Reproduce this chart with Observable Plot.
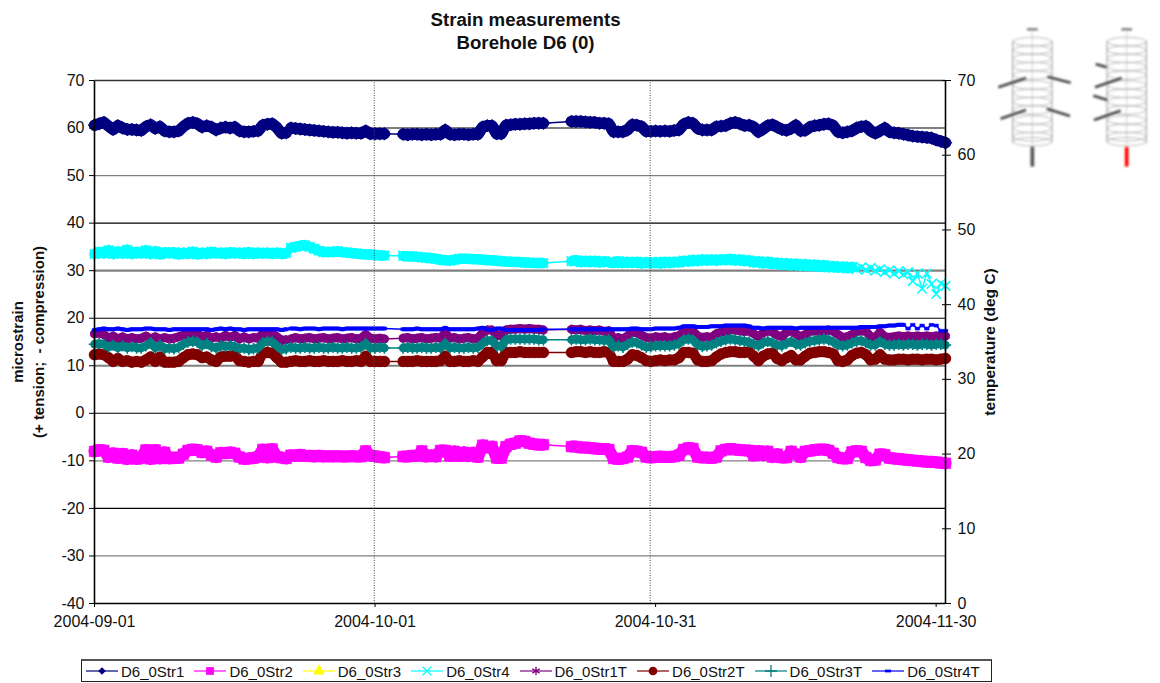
<!DOCTYPE html>
<html>
<head>
<meta charset="utf-8">
<script src="https://cdn.jsdelivr.net/npm/d3@7"></script>
<script src="https://cdn.jsdelivr.net/npm/@observablehq/plot@0.6"></script>
<style>
html,body{margin:0;padding:0;background:#fff;font-family:"Liberation Sans",Arial,sans-serif}
#wrap{position:relative;width:1160px;height:683px;overflow:hidden}
#legend{position:absolute;left:81px;top:659px;width:911px;height:23px;box-sizing:border-box;border:1px solid #222;border-top:2px solid #555;display:flex;align-items:center;font-size:15px;color:#111;padding-left:4px;gap:10px;white-space:nowrap}
#legend .it{display:flex;align-items:center;gap:3px}
#schem{position:absolute;left:990px;top:10px}
</style>
</head>
<body>
<div id="wrap"><div id="chart"></div><div id="legend"></div><div id="schem"></div></div>
<script>
// Reading days since 2004-09-01 (logger gaps around day 21, 31-33 and 48-51)
const days = [...d3.range(0, 21, 0.5), ...d3.range(21, 31.5, 0.5), ...d3.range(33, 48.5, 0.5), ...d3.range(51, 91.5, 0.5)];
const segmentStarts = [0, 21, 33, 51];

// Strain (microstrain, left axis)
const str1 = [
 60.6,60.9,61.2,60.4,59.7,60.5,60.0,59.7,59.7,59.6,59.5,60.3,60.7,59.9,60.3,59.4,59.2,59.2,59.4,60.3,
 61.0,61.2,60.9,60.2,60.5,60.2,59.6,60.0,60.2,60.0,60.2,59.4,59.2,59.2,59.3,59.4,60.6,60.8,60.9,60.1,58.9,59.0,
 60,59.9,59.8,59.7,59.6,59.5,59.4,59.3,59.2,59.1,59.1,59,58.9,59,58.9,58.9,59.4,58.8,58.8,58.8,58.8,
 58.7,58.6,58.7,58.7,58.6,58.7,58.6,58.7,58.7,59.6,58.7,58.6,58.7,58.7,58.6,58.7,58.7,60.2,60.5,60.5,58.8,58.8,60.6,60.7,60.8,60.8,60.9,60.9,61,61,61,
 61.4,61.4,61.4,61.3,61.2,61.2,61.0,61.0,60.9,
 59.2,59.2,59.2,59.6,60.7,60.6,60.3,59.3,59.3,59.4,
 59.3,59.4,59.3,59.5,59.6,60.8,61.2,61.0,59.9,59.6,
 59.6,59.6,60.3,60.4,60.5,61.0,61.2,60.9,60.5,60.6,
 60.2,59.2,59.8,60.5,60.7,60.2,59.7,59.5,59.9,60.6,
 59.4,59.5,60.2,60.5,60.6,60.8,60.9,60.5,59.2,59,
 59.2,59.4,60,60.3,60.4,59.4,58.9,59.4,60,59.2,
 59,58.9,58.7,58.5,58.3,58.2,58.1,58,57.9,57.5,57.2,56.9];
const str2 = [
 -8,-7.7,-7.8,-9.2,-8.4,-9.4,-8.5,-9.6,-8.8,-9.6,-9.4,-7.7,-9.6,-7.7,-9.5,-8.2,-9.5,-9.3,-9.4,-8.6,
 -7.8,-7.6,-7.7,-8.2,-8.0,-8.8,-9.2,-8.3,-8.4,-8.2,-8.4,-9.2,-9.6,-9.5,-9.4,-9.2,-7.6,-9.3,-7.5,-9.2,-9.3,-9.5,
 -8.8,-9,-8.7,-9,-8.9,-9.1,-8.9,-9.1,-9,-9.1,-9,-9.1,-9.1,-9,-9.1,-9.1,-7.9,-8.9,-9,-9.2,-9.3,
 -9.1,-9.1,-8.9,-9,-7.9,-9.1,-8.8,-9.1,-7.8,-7.8,-9,-8,-9,-8.2,-9,-8.3,-9.2,-6.7,-7.2,-7,-9.4,-9.4,-7,-6.5,-6.3,-5.8,-5.9,-6.3,-6.5,-6.6,-6.6,
 -7,-7,-7.2,-7.2,-7.3,-7.4,-7.5,-7.5,-7.6,
 -9.5,-9.6,-9.5,-9.2,-7.9,-8,-8.2,-9.2,-9.3,-9.2,
 -9.1,-9.2,-9.2,-9.1,-8.8,-7.6,-7.3,-7.4,-9.2,-9.3,
 -9.3,-9.4,-9.2,-7.9,-7.6,-7.5,-7.6,-7.7,-7.8,-7.8,
 -8.9,-7.9,-8.8,-8,-9.2,-8.6,-9.3,-9.3,-8,-8.6,
 -9.2,-8,-7.9,-7.7,-7.6,-7.6,-7.8,-8.4,-9.3,-9.5,
 -9.5,-8.1,-7.9,-8,-9.3,-9.9,-9.8,-8.6,-8.7,-9.4,
 -9.5,-9.6,-9.7,-9.8,-9.9,-10,-10.1,-10.2,-10.2,-10.3,-10.4,-10.5];
const str3 = []; // in the legend, no readable points on the chart
const str4 = [
 33.5,34.0,33.6,34.3,33.5,34.1,33.6,34.4,33.5,34,33.6,34.3,33.5,34.1,33.4,33.9,33.6,33.9,33.4,33.8,
 33.5,34,33.4,33.8,33.5,34,33.6,33.8,33.5,33.9,33.6,33.8,33.5,33.9,33.5,33.8,33.6,33.8,33.5,33.8,33.5,33.7,
 34.8,35,35.2,35.4,35.0,34.6,34.2,33.9,34.0,33.9,34.1,33.9,33.8,33.7,33.6,33.5,33.4,33.4,33.3,33.2,33.2,
 33.1,33,33,32.9,32.8,32.7,32.6,32.5,32.3,32.2,32.1,32.3,32.5,32.5,32.5,32.4,32.4,32.3,32.2,32.2,32.1,32,31.9,31.9,31.8,31.8,31.7,31.7,31.6,31.6,31.6,
 32,32.2,31.8,32.1,31.8,32.1,31.7,32,31.8,
 31.6,32,31.6,31.9,31.6,31.9,31.5,31.8,31.5,31.8,
 31.5,31.9,31.6,31.9,31.7,32.1,31.9,32.3,32,32.4,
 32.1,32.4,32.1,32.4,32.2,32.5,32.1,32.4,32,32.2,
 31.7,32,31.5,31.9,31.4,31.7,31.2,31.6,31.1,31.5,
 31,31.4,30.9,31.3,30.8,31.2,30.7,31,30.6,30.9,
 30.5,30.8,30.3,30.7,30.2,30.6,30,30.3,29.7,30.1,
 29.4,29.9,29.2,29.7,27.8,29.4,26.2,29.4,27.2,25.1,27.3,26.8];

// Temperature (deg C, right axis)
const str1T = [
 36.1,36.2,36,35.5,35.8,35.4,35.7,35.4,35.6,35.4,35.5,35.8,35.4,35.7,35.4,35.6,35.4,35.5,35.7,35.9,
 36.1,36,36.1,35.6,35.9,35.5,35.7,35.5,35.9,35.6,35.9,35.4,35.7,35.4,35.6,35.5,36.1,36,36.1,35.7,35.2,35.3,
 35.4,35.6,35.4,35.5,35.6,35.4,35.5,35.6,35.4,35.5,35.6,35.4,35.5,35.6,35.4,35.5,36.0,35.5,35.4,35.5,35.4,
 35.5,35.6,35.4,35.5,35.6,35.4,35.5,35.6,35.5,36.2,35.5,35.6,35.4,35.5,35.6,35.4,35.5,36.2,36.6,36.6,35.9,35.8,36.6,36.7,36.7,36.8,36.7,36.8,36.7,36.7,36.6,
 36.7,36.6,36.7,36.5,36.6,36.5,36.6,36.4,36.5,
 35.4,35.6,35.4,35.8,36.3,36.2,35.9,35.6,35.5,35.7,
 35.6,35.7,35.5,35.7,35.8,36.4,36.5,36.4,35.8,35.6,
 35.7,35.6,36.1,36.3,36.4,36.6,36.6,36.5,36.4,36.5,
 36.1,35.7,36.2,36.5,36.3,35.9,35.7,36.3,36.5,36.1,
 35.7,36,36.4,36.5,36.4,36.5,36.6,36.4,36,35.6,
 35.7,36,36.4,36.5,36.4,35.7,35.6,36.3,35.7,35.6,
 35.7,35.8,35.7,35.8,35.7,35.8,35.7,35.8,35.7,35.8,35.7,35.8];
const str2T = [
 33.3,33.4,33.3,32.9,32.4,32.8,32.4,32.5,32.3,32.4,32.3,32.6,33,32.4,33,32.3,32.3,32.3,32.4,32.9,
 33.3,33.4,33.3,32.9,33,32.6,32.4,33,33.1,33.1,33.2,32.5,32.4,32.3,32.4,32.4,33.5,33.6,33.5,32.9,32.3,32.3,
 32.4,32.5,32.4,32.4,32.5,32.4,32.4,32.5,32.4,32.4,32.4,32.5,32.4,32.4,32.5,32.4,33.1,32.4,32.4,32.4,32.4,
 32.4,32.4,32.4,32.5,32.4,32.4,32.4,32.4,32.5,33.1,32.4,32.4,32.5,32.4,32.4,32.5,32.4,33,33.6,33.6,32.5,32.5,33.6,33.6,33.6,33.7,33.6,33.6,33.6,33.6,33.6,
 33.6,33.7,33.7,33.6,33.7,33.6,33.6,33.7,33.6,
 32.4,32.4,32.4,32.7,33.3,33.2,32.9,32.5,32.4,32.5,
 32.6,32.5,32.6,32.6,32.9,33.6,33.6,33.5,32.6,32.4,
 32.4,32.5,33,33.4,33.6,33.7,33.7,33.6,33.6,33.7,
 33.1,32.5,33.1,33.4,33.5,32.8,32.5,32.9,33.2,32.6,
 32.6,33.1,33.5,33.6,33.7,33.7,33.6,33.4,32.5,32.4,
 32.6,33.2,33.5,33.6,33.3,32.6,32.7,33.3,32.7,32.6,
 32.6,32.7,32.7,32.6,32.7,32.7,32.6,32.7,32.7,32.6,32.7,32.8];
const str3T = [
 34.7,34.8,34.7,34.3,34.6,34.2,34.5,34.2,34.4,34.2,34.2,34.5,34.9,34.2,34.6,34.1,34.2,34.1,34.3,34.7,
 35,35.1,35,34.5,34.8,34.4,34.2,34.5,34.4,34.5,34.4,34.1,34.2,34,34.1,34.2,34.9,35.1,35,34.5,34,34.1,
 34.3,34.2,34.2,34.3,34.2,34.2,34.3,34.2,34.2,34.3,34.2,34.2,34.3,34.2,34.2,34.3,34.8,34.2,34.2,34.3,34.2,
 34.2,34.3,34.2,34.2,34.3,34.2,34.2,34.3,34.2,34.8,34.2,34.3,34.2,34.2,34.3,34.2,34.3,34.8,35.2,35.2,34.5,34.4,35.3,35.4,35.4,35.4,35.4,35.4,35.4,35.3,35.3,
 35.3,35.4,35.3,35.3,35.4,35.3,35.3,35.2,35.3,
 34.3,34.5,34.3,34.7,35,34.9,34.6,34.3,34.4,34.5,
 34.5,34.5,34.5,34.6,34.8,35.3,35.4,35.3,34.6,34.4,
 34.5,34.6,34.9,35.1,35.3,35.4,35.3,35.2,35.1,35,
 34.7,34.5,34.9,35.1,34.9,34.6,34.5,34.8,35.1,34.7,
 34.6,34.9,35.1,35.2,35.3,35.4,35.3,35,34.6,34.5,
 34.6,34.9,35.1,35.2,34.9,34.6,34.6,35.1,34.7,34.6,
 34.6,34.7,34.6,34.7,34.7,34.6,34.7,34.7,34.6,34.7,34.7,34.6];
const str4T = [
 36.6,36.7,36.8,36.7,36.7,36.8,36.7,36.6,36.7,36.7,36.7,36.8,36.8,36.7,36.7,36.7,36.6,36.7,36.7,36.7,
 36.7,36.7,36.7,36.7,36.7,36.6,36.7,36.8,36.7,36.8,36.7,36.7,36.6,36.7,36.7,36.7,36.7,36.7,36.7,36.7,36.6,36.7,
 36.8,36.8,36.7,36.8,36.8,36.8,36.7,36.8,36.8,36.8,36.8,36.7,36.8,36.8,36.8,36.8,36.8,36.8,36.8,36.8,36.8,
 36.7,36.7,36.7,36.8,36.7,36.7,36.7,36.7,36.7,36.9,36.7,36.7,36.7,36.7,36.7,36.7,36.8,36.9,36.7,36.6,36.8,36.8,36.6,36.6,36.6,36.6,36.6,36.6,36.6,36.6,36.7,
 36.7,36.7,36.7,36.7,36.7,36.7,36.7,36.7,36.7,
 36.7,36.7,36.7,36.7,36.8,36.8,36.7,36.7,36.7,36.8,
 36.8,36.8,36.8,36.8,36.9,37.1,37.1,37.1,37.0,37.0,
 37.0,37.1,37.1,37.1,37.2,37.2,37.2,37.2,37.2,37.1,
 36.9,36.9,36.8,36.9,36.9,36.9,36.9,36.9,36.9,36.8,
 36.9,36.9,36.9,36.9,36.9,36.9,36.9,36.9,36.9,36.9,
 36.9,36.9,36.9,37.0,37.0,37.0,37.0,37.1,37.1,37.2,
 37.2,37.3,37.3,36.8,37.3,36.8,37.2,36.8,37.3,37.2,36.5,36.5];

const xTicks = ["2004-09-01", "2004-10-01", "2004-10-31", "2004-11-30"];
const leftTicks = [70,60,50,40,30,20,10,0,-10,-20,-30,-40];
const rightTicks = [0,10,20,30,40,50,60,70];
const darkGrid = [70,60,40,20,0,-20];
const greyGrid = [50,-10,-30];
const thickGreyGrid = [30,10];
const markerLines = ["2004-09-30T22:00Z", "2004-10-30T10:00Z"];

const utc = s => new Date(s.length === 10 ? s + "T00:00Z" : s);
const tempToLeft = t => t * 110 / 70 - 40;   // right axis 0..70 spans left axis -40..70
const leftToTemp = v => (v + 40) * 70 / 110;
const dash = {draw(c, s) { const w = Math.sqrt(s) / 2; c.rect(-w, -1.5, 2 * w, 3); }};

const series = [
 {name:"D6_0Str1",  values:str1,  color:"#000080", symbol:"diamond2", r:5.8, filled:true,  temp:false, band:11.5, bandEnd:92},
 {name:"D6_0Str2",  values:str2,  color:"#FF00FF", symbol:"square",   r:6,   filled:true,  temp:false, band:12,   bandEnd:92},
 {name:"D6_0Str3",  values:str3,  color:"#FFFF00", symbol:"triangle", r:4.5, filled:true,  temp:false, band:0,    bandEnd:92},
 {name:"D6_0Str4",  values:str4,  color:"#00FFFF", symbol:"times",    r:4.4, filled:false, temp:false, band:10.5, bandEnd:81},
 {name:"D6_0Str1T", values:str1T, color:"#800080", symbol:"asterisk", r:4.2, filled:false, temp:true,  band:9,    bandEnd:92},
 {name:"D6_0Str2T", values:str2T, color:"#800000", symbol:"circle",   r:5.4, filled:true,  temp:true,  band:10.5, bandEnd:92},
 {name:"D6_0Str3T", values:str3T, color:"#008080", symbol:"plus",     r:3.8, filled:false, temp:true,  band:8.5,  bandEnd:92},
 {name:"D6_0Str4T", values:str4T, color:"#0000FF", symbol:dash,       r:2.6, filled:true,  temp:true,  band:4,    bandEnd:86.5}
];

const rowsOf = s => s.values.map((v, i) => ({
  day: days[i],
  segment: d3.bisectRight(segmentStarts, days[i]),
  date: new Date(Date.UTC(2004, 8, 1) + days[i] * 864e5),
  y: s.temp ? tempToLeft(v) : v
}));

const marks = [
 Plot.ruleY(greyGrid, {stroke:"#808080", strokeWidth:1.3}),
 Plot.ruleY(thickGreyGrid, {stroke:"#808080", strokeWidth:2.2}),
 Plot.ruleY(darkGrid, {stroke:"#000", strokeWidth:1.1})
];
for (const s of series) {
  const rows = rowsOf(s);
  marks.push(Plot.line(rows, {x:"date", y:"y", stroke:s.color, strokeWidth:1.5}));
  if (s.band) marks.push(Plot.line(rows.filter(r => r.day <= s.bandEnd), {x:"date", y:"y", z:"segment", stroke:s.color, strokeWidth:s.band, strokeLinejoin:"round"}));
  marks.push(Plot.dot(rows, {x:"date", y:"y", symbol:()=>s.symbol, r:s.r,
    fill:s.filled ? s.color : "none", stroke:s.color, strokeWidth:s.filled ? 0.5 : 1.6}));
}
marks.push(
 Plot.ruleX(markerLines.map(utc), {stroke:"#444", strokeWidth:1, strokeDasharray:"1,1.5"}),
 Plot.ruleX([utc("2004-09-01")], {stroke:"#000", strokeWidth:1.6}),
 Plot.ruleX([utc("2004-12-01")], {stroke:"#000", strokeWidth:1.6}),
 Plot.ruleY([-40], {stroke:"#000", strokeWidth:1.6}),
 Plot.ruleY([70], {stroke:"#333", strokeWidth:1.6}),
 Plot.axisX(xTicks.map(utc), {anchor:"bottom", tickSize:4, tickPadding:8, tickFormat:d3.utcFormat("%Y-%m-%d"), stroke:"#000", label:null}),
 Plot.axisY(leftTicks, {anchor:"left", tickSize:5, tickPadding:5, label:null, stroke:"#000", tickFormat:d => String(d)}),
 Plot.axisY(rightTicks.map(tempToLeft), {anchor:"right", tickSize:9, dx:-4, tickPadding:7, label:null, stroke:"#000", tickFormat:d => String(Math.round(leftToTemp(d)))}),
 Plot.text(["Strain measurements\nBorehole D6 (0)"], {frameAnchor:"top", dx:5.5, dy:-50.5, lineAnchor:"middle", textAnchor:"middle", fontWeight:"bold", fontSize:18.7, lineHeight:1.23}),
 Plot.text(["microstrain\n(+ tension;  - compression)"], {frameAnchor:"left", dx:-68, rotate:-90, textAnchor:"middle", lineAnchor:"middle", fontWeight:"bold", fontSize:15, lineHeight:1.4}),
 Plot.text(["temperature (deg C)"], {frameAnchor:"right", dx:45, rotate:-90, textAnchor:"middle", lineAnchor:"middle", fontWeight:"bold", fontSize:15.5})
);

const chart = Plot.plot({
  width:1160, height:650,
  marginTop:80, marginBottom:47, marginLeft:94, marginRight:215,
  x:{type:"utc", domain:[utc("2004-09-01"), utc("2004-12-01")]},
  y:{domain:[-40,70]},
  style:{fontFamily:'"Liberation Sans",Arial,sans-serif', fontSize:"16px", background:"#fff", color:"#111", overflow:"visible"},
  marks
});
document.getElementById("chart").appendChild(chart);

// Legend
const legend = d3.select("#legend");
const symTypes = {diamond2:d3.symbolSquare, square:d3.symbolSquare, triangle:d3.symbolTriangle, times:d3.symbolTimes, asterisk:d3.symbolAsterisk, circle:d3.symbolCircle, plus:d3.symbolPlus};
for (const s of series) {
  const it = legend.append("div").attr("class","it");
  const svg = it.append("svg").attr("width",32).attr("height",16);
  svg.append("line").attr("x1",0).attr("x2",32).attr("y1",8).attr("y2",8).attr("stroke",s.color).attr("stroke-width",1.2);
  if (s.symbol === dash) {
    svg.append("rect").attr("x",13).attr("y",6.6).attr("width",6).attr("height",2.8).attr("fill",s.color);
  } else {
    const size = s.symbol === "diamond2" ? 28 : s.filled ? 60 : 50;
    svg.append("path").attr("d", d3.symbol(symTypes[s.symbol], size)())
      .attr("transform", "translate(16,8)" + (s.symbol === "diamond2" ? " rotate(45)" : ""))
      .attr("fill", s.filled ? s.color : "none").attr("stroke", s.color).attr("stroke-width", s.filled ? 0 : 1.3);
  }
  it.append("span").text(s.name);
}

// Borehole schematics (top right)
const schem = d3.select("#schem").append("svg").attr("width",170).attr("height",170).attr("viewBox","0 0 510 510");
schem.append("defs").append("filter").attr("id","soft").append("feGaussianBlur").attr("stdDeviation",3);
const g = schem.append("g").attr("filter","url(#soft)").attr("fill","none");
const rings = [95,120,145,170,195,225,250,275,300,330,355,380,395];
const arms = [
 [[25,232,108,204],[172,200,242,218],[32,326,108,300],[170,296,240,318]],
 [[317,162,350,172],[315,232,395,204],[310,257,352,270],[312,330,392,302]]
];
[[127,"#555"],[410,"#f00"]].forEach(([cx,rod],k) => {
  rings.forEach(y => g.append("ellipse").attr("cx",cx).attr("cy",y).attr("rx",58).attr("ry",13).attr("stroke","#aaa").attr("stroke-width",2.4));
  g.append("line").attr("x1",cx-59).attr("x2",cx-59).attr("y1",92).attr("y2",398).attr("stroke","#999").attr("stroke-width",3);
  g.append("line").attr("x1",cx+59).attr("x2",cx+59).attr("y1",92).attr("y2",398).attr("stroke","#999").attr("stroke-width",3);
  g.append("line").attr("x1",cx).attr("x2",cx).attr("y1",65).attr("y2",405).attr("stroke","#bbb").attr("stroke-width",2);
  g.append("line").attr("x1",cx-16).attr("x2",cx+16).attr("y1",58).attr("y2",58).attr("stroke","#777").attr("stroke-width",7);
  arms[k].forEach(a => g.append("line").attr("x1",a[0]).attr("y1",a[1]).attr("x2",a[2]).attr("y2",a[3]).attr("stroke","#444").attr("stroke-width",8));
  g.append("line").attr("x1",cx).attr("x2",cx).attr("y1",410).attr("y2",470).attr("stroke",rod).attr("stroke-width",11);
});
</script>
</body>
</html>
